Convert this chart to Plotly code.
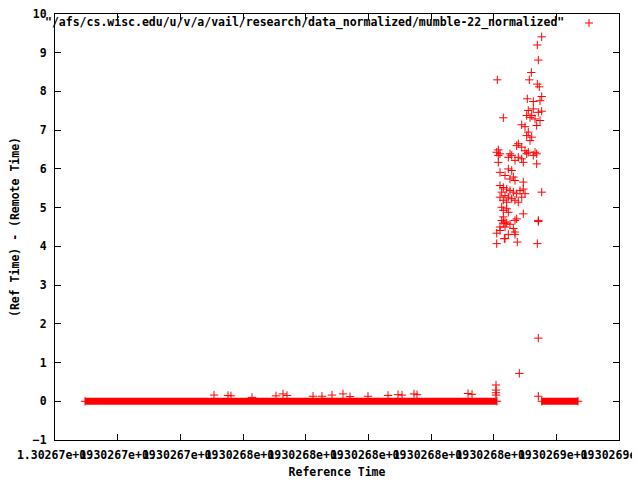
import plotly.graph_objects as go

# ---------------- data ----------------
x_tick_vals = [1302670000, 1302672000, 1302674000, 1302676000, 1302678000,
               1302680000, 1302682000, 1302684000, 1302686000, 1302688000]
x_tick_text = ["1.30267e+09", "1.30267e+09", "1.30267e+09", "1.30268e+09", "1.30268e+09",
               "1.30268e+09", "1.30268e+09", "1.30268e+09", "1.30269e+09", "1.30269e+09"]
y_tick_vals = [-1, 0, 1, 2, 3, 4, 5, 6, 7, 8, 9, 10]

# long runs of samples where the offset is 0 (start, end timestamps)
zero_run_start = [1302670957, 1302685533]
zero_run_end = [1302684106, 1302686692]

# small offsets near zero
small_t = [1302675074, 1302675521, 1302675617, 1302676287, 1302677053, 1302677277,
           1302677404, 1302678234, 1302678521, 1302678840, 1302679192, 1302679415,
           1302679989, 1302680628, 1302680947, 1302681075, 1302681457, 1302681553,
           1302683181, 1302683309, 1302684075, 1302684075, 1302684075, 1302684075]
small_v = [0.16, 0.15, 0.14, 0.10, 0.14, 0.19,
           0.15, 0.13, 0.13, 0.16, 0.19, 0.12,
           0.13, 0.15, 0.17, 0.16, 0.19, 0.17,
           0.20, 0.18, 0.42, 0.29, 0.22, 0.16]

# burst of large offsets
burst_t = [1302685533, 1302685393, 1302685425, 1302685201, 1302684116, 1302685137,
           1302685393, 1302685456, 1302685533, 1302685073, 1302685265, 1302685479,
           1302684308, 1302685105, 1302685265, 1302685425, 1302685533, 1302685054,
           1302685160, 1302685319, 1302685479, 1302684895, 1302685000, 1302685373,
           1302685214, 1302685105, 1302685054, 1302685214, 1302685160, 1302684786,
           1302684735, 1302684895, 1302684148, 1302684097, 1302684202, 1302684521,
           1302684576, 1302684467, 1302685000, 1302685105, 1302685054, 1302685319,
           1302685265, 1302685373, 1302684786, 1302684895, 1302684681, 1302684946,
           1302684148, 1302684148, 1302685373, 1302684202, 1302684362, 1302684467,
           1302684576, 1302684521, 1302684681, 1302684627, 1302684946,
           1302684202, 1302684308, 1302684416, 1302684521, 1302684627, 1302684735,
           1302684840, 1302684256, 1302684362, 1302684467, 1302684576, 1302684681,
           1302684786, 1302684895, 1302684202, 1302684308, 1302684416, 1302684946,
           1302685000, 1302685533, 1302684256, 1302684416, 1302684308, 1302684467,
           1302684946, 1302685425, 1302684308, 1302684256, 1302684362, 1302684681,
           1302684735, 1302684202, 1302684362, 1302684627, 1302684308, 1302684416,
           1302684521, 1302684097, 1302684202, 1302684467, 1302684681, 1302684362,
           1302684681, 1302684097, 1302684754, 1302685393, 1302685425, 1302685425,
           1302684818, 1302685425, 1302684340]
burst_v = [9.41, 9.20, 8.81, 8.49, 8.30, 8.30,
           8.19, 8.12, 7.87, 7.81, 7.74, 7.76,
           7.32, 7.51, 7.55, 7.46, 7.49, 7.38,
           7.33, 7.29, 7.25, 7.14, 7.09, 7.12,
           7.38, 6.95, 6.86, 6.82, 6.73, 6.65,
           6.60, 6.56, 6.49, 6.43, 6.39, 6.39,
           6.35, 6.30, 6.47, 6.43, 6.39, 6.43,
           6.35, 6.39, 6.30, 6.26, 6.22, 6.17,
           6.35, 6.17, 6.13, 5.91, 5.83, 6.00,
           5.96, 5.74, 5.70, 5.79, 5.66,
           5.57, 5.52, 5.48, 5.44, 5.40, 5.36,
           5.44, 5.40, 5.31, 5.27, 5.23, 5.19,
           5.14, 5.27, 5.27, 5.19, 5.14, 5.48,
           5.36, 5.40, 5.01, 4.97, 4.93, 4.88,
           4.84, 4.67, 4.76, 4.67, 4.63, 4.67,
           4.71, 4.50, 4.50, 4.46, 4.60, 4.60,
           4.57, 4.34, 4.41, 4.31, 4.31, 4.20,
           4.37, 4.07, 4.11, 4.07, 4.64, 1.63,
           0.72, 0.13, 4.20]

legend_label = '"/afs/cs.wisc.edu/u/v/a/vail/research/data_normalized/mumble-22_normalized"'
x_title = "Reference Time"
y_title = "(Ref Time) - (Remote Time)"

# ---------------- figure ----------------
RED = "#ff0000"
FONT = dict(family="DejaVu Sans Mono", size=11.5, color="black", weight="bold")

run_x, run_y = [], []
for s, e in zip(zero_run_start, zero_run_end):
    run_x += [s, e, None]
    run_y += [0, 0, None]

marker = dict(symbol="cross-thin", size=6, color=RED, line=dict(color=RED, width=1))

fig = go.Figure()
fig.add_trace(go.Scatter(x=run_x, y=run_y, mode="lines+markers",
                         line=dict(color=RED, width=7), marker=marker,
                         hoverinfo="skip"))
fig.add_trace(go.Scatter(x=small_t, y=small_v, mode="markers", marker=marker))
fig.add_trace(go.Scatter(x=burst_t, y=burst_v, mode="markers", marker=marker))

axis_common = dict(showline=True, linecolor="black", linewidth=1, mirror="allticks",
                   ticks="inside", ticklen=6, tickcolor="black", tickwidth=1,
                   showgrid=False, zeroline=False, tickfont=FONT,
                   ticklabeloverflow="allow")

fig.update_xaxes(range=[1302670000, 1302688000], tickvals=x_tick_vals,
                 ticktext=x_tick_text, tickangle=0, ticklabelstandoff=4,
                 title=dict(text=x_title, font=FONT, standoff=7), **axis_common)
fig.update_yaxes(range=[-1, 10], tickvals=y_tick_vals, ticklabelstandoff=5,
                 title=dict(text=y_title, font=FONT, standoff=10), **axis_common)

# the page body has an 8px margin, so the figure is drawn 8px in from the corner
OFF = 8
plot_l, plot_r, plot_t, plot_b = 55, 619, 14, 440
W, H = 640 - OFF, 480 - OFF
pw, ph = plot_r - plot_l, plot_b - plot_t
def px(x):
    return (x - plot_l) / pw
def py(y):
    return (plot_b - y) / ph

fig.add_annotation(x=px(566), y=py(23), xref="paper", yref="paper",
                   text=legend_label, showarrow=False, xanchor="right",
                   yanchor="middle", font=FONT)
fig.add_shape(type="line", xref="paper", yref="paper",
              x0=px(585), x1=px(593), y0=py(23), y1=py(23),
              line=dict(color=RED, width=1))
fig.add_shape(type="line", xref="paper", yref="paper",
              x0=px(589), x1=px(589), y0=py(19), y1=py(27),
              line=dict(color=RED, width=1))

fig.update_layout(width=W, height=H,
                  margin=dict(l=plot_l - OFF, r=640 - plot_r, t=plot_t - OFF,
                              b=480 - plot_b, autoexpand=False),
                  plot_bgcolor="white", paper_bgcolor="white",
                  showlegend=False, font=FONT)

fig.write_html("out.html")
